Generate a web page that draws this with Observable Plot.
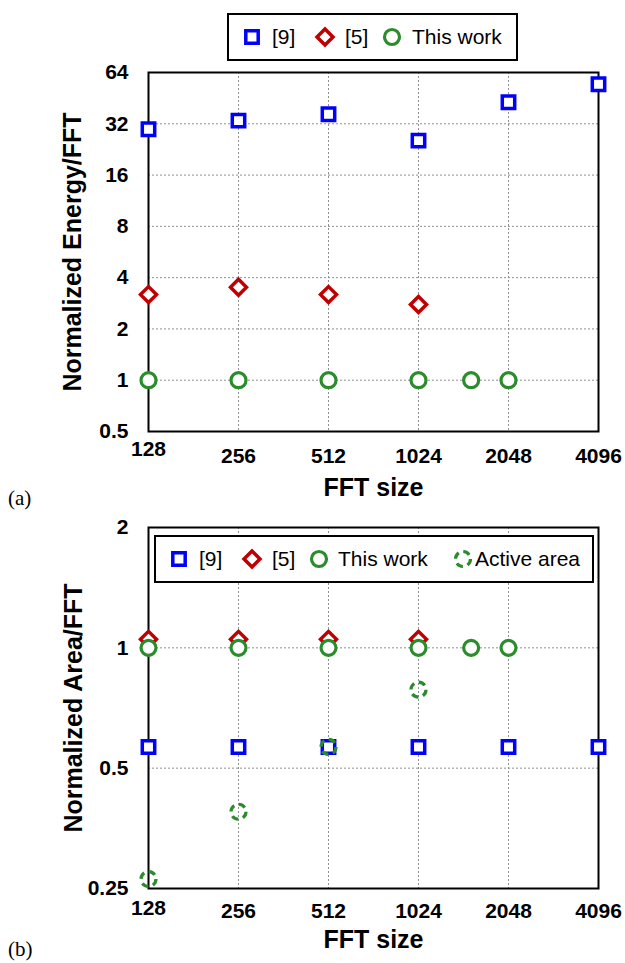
<!DOCTYPE html>
<html>
<head>
<meta charset="utf-8">
<script src="https://cdn.jsdelivr.net/npm/d3@7"></script>
<script src="https://cdn.jsdelivr.net/npm/@observablehq/plot@0.6"></script>
<style>
  body { margin: 0; background: #fff; }
  #root { position: relative; width: 625px; height: 963px; overflow: hidden; background: #fff;
          font-family: "Liberation Sans", Arial, Helvetica, sans-serif; }
  .panel { position: absolute; left: 0; }
  .plabel { position: absolute; font-family: "Liberation Serif", "Times New Roman", serif; font-size: 21px; line-height: 1; }
</style>
</head>
<body>
<div id="root"></div>
<script>
// ---------------- data ----------------
const fftTicks = [128, 256, 512, 1024, 2048, 4096];

// Panel (a): Normalized Energy/FFT
const energyTicks = [0.5, 1, 2, 4, 8, 16, 32, 64];
const sizesRef9 = [128, 256, 512, 1024, 2048, 4096];
const energyRef9 = [29.7, 33.4, 36.4, 25.5, 42.8, 54.6];
const sizesRef5 = [128, 256, 512, 1024];
const energyRef5 = [3.18, 3.51, 3.18, 2.78];
const sizesThis = [128, 256, 512, 1024, 1536, 2048];
const energyThis = [1, 1, 1, 1, 1, 1];

// Panel (b): Normalized Area/FFT
const areaTicks = [0.25, 0.5, 1, 2];
const areaRef9 = [0.565, 0.565, 0.565, 0.565, 0.565, 0.565];
const areaRef5 = [1.05, 1.05, 1.05, 1.05];
const areaThis = [1, 1, 1, 1, 1, 1];
const sizesActive = [128, 256, 512, 1024];
const areaActive = [0.264, 0.389, 0.565, 0.786];

const legendA = ["[9]", "[5]", "This work"];
const legendB = ["[9]", "[5]", "This work", "Active area"];

// ---------------- styles ----------------
const FONT = "Liberation Sans, Arial, Helvetica, sans-serif";
const BLUE = "#0000ff", RED = "#c00000", GREEN = "#2b8c2b";
const DIAMOND = d3.symbolDiamond2 || d3.symbolDiamond;
const sty = {
  ref9:   {symbol: "square", r: 7, stroke: BLUE, strokeWidth: 3.5, fill: "white"},
  ref5:   {symbol: DIAMOND, r: 7.2, stroke: RED, strokeWidth: 3.5, fill: "white"},
  thisw:  {symbol: "circle", r: 7.5, stroke: GREEN, strokeWidth: 3.2, fill: "white"},
  active: {symbol: "circle", r: 7.5, stroke: GREEN, strokeWidth: 3.2, fill: "none", strokeDasharray: "7,4.8"}
};
const grid = {stroke: "#8f8f8f", strokeOpacity: 1, strokeWidth: 1, strokeDasharray: "2,2"};
const tickText = {tickSize: 0, fontSize: 21, fontWeight: "bold", tickFormat: d => String(d), label: null};

const root = document.getElementById("root");

function panel({top, height, marginTop, marginBottom, yDomain, yTicks, yTitle, titleDx, pad128, padX, xTitleDy, series}) {
  const chart = Plot.plot({
    width: 625, height, marginLeft: 148, marginRight: 27, marginTop, marginBottom,
    style: {fontFamily: FONT, background: "transparent", overflow: "visible"},
    x: {type: "log", base: 2, domain: [128, 4096]},
    y: {type: "log", base: 2, domain: yDomain},
    marks: [
      Plot.gridY(yTicks.slice(1, -1), grid),
      Plot.gridX(fftTicks.slice(1, -1), grid),
      Plot.frame({stroke: "black", strokeWidth: 2}),
      Plot.axisY(yTicks, {...tickText, tickPadding: 20}),
      Plot.axisX(fftTicks.slice(1), {...tickText, tickPadding: padX}),
      Plot.axisX(fftTicks.slice(0, 1), {...tickText, tickPadding: pad128}),
      Plot.text([yTitle], {frameAnchor: "left", dx: titleDx, rotate: -90, textAnchor: "middle", lineAnchor: "middle",
                           fontSize: 25, fontWeight: "bold", fill: "black"}),
      Plot.text(["FFT size"], {frameAnchor: "bottom", dy: xTitleDy, textAnchor: "middle", lineAnchor: "middle",
                               fontSize: 25, fontWeight: "bold", fill: "black"}),
      ...series.map(([xs, ys, s]) => Plot.dot(ys, {x: xs, y: ys, ...s}))
    ]
  });
  chart.classList.add("panel");
  chart.style.top = top + "px";
  root.appendChild(chart);
  return chart;
}

panel({
  top: 0, height: 500, marginTop: 72, marginBottom: 69,
  yDomain: [0.5, 64], yTicks: energyTicks, yTitle: "Normalized Energy/FFT", titleDx: -76,
  pad128: 10, padX: 17, xTitleDy: 56,
  series: [[sizesRef9, energyRef9, sty.ref9], [sizesRef5, energyRef5, sty.ref5], [sizesThis, energyThis, sty.thisw]]
});

panel({
  top: 500, height: 463, marginTop: 27, marginBottom: 75,
  yDomain: [0.25, 2], yTicks: areaTicks, yTitle: "Normalized Area/FFT", titleDx: -75,
  pad128: 12, padX: 15, xTitleDy: 51,
  series: [[sizesRef9, areaRef9, sty.ref9], [sizesRef5, areaRef5, sty.ref5], [sizesThis, areaThis, sty.thisw], [sizesActive, areaActive, sty.active]]
});

// ---------------- legends (overlay) ----------------
const ov = d3.select(root).append("svg")
  .attr("width", 625).attr("height", 963)
  .style("position", "absolute").style("left", 0).style("top", 0)
  .style("font-family", FONT);

function legendSymbol(g, s, cx, cy) {
  if (s.symbol === "circle") {
    g.append("circle").attr("cx", cx).attr("cy", cy).attr("r", s.r)
      .attr("fill", s.fill).attr("stroke", s.stroke).attr("stroke-width", s.strokeWidth)
      .attr("stroke-dasharray", s.strokeDasharray || null);
  } else {
    const type = s.symbol === "square" ? d3.symbolSquare : s.symbol;
    g.append("path").attr("transform", `translate(${cx},${cy})`)
      .attr("d", d3.symbol(type, Math.PI * s.r * s.r)())
      .attr("fill", s.fill).attr("stroke", s.stroke).attr("stroke-width", s.strokeWidth);
  }
}

function legend(box, labels, styles, symX, textX) {
  const g = ov.append("g");
  g.append("rect").attr("x", box.x).attr("y", box.y).attr("width", box.w).attr("height", box.h)
    .attr("fill", "white").attr("stroke", "black").attr("stroke-width", 2);
  const cy = box.y + box.h / 2;
  labels.forEach((t, i) => {
    legendSymbol(g, styles[i], symX[i], cy);
    g.append("text").attr("x", textX[i]).attr("y", cy).attr("dy", "0.35em")
      .attr("font-size", 21).attr("fill", "black").text(t);
  });
}

legend({x: 228, y: 14, w: 289, h: 46}, legendA, [sty.ref9, sty.ref5, sty.thisw],
  [252, 325, 392], [272, 345, 412]);
legend({x: 155, y: 536, w: 438, h: 46}, legendB, [sty.ref9, sty.ref5, sty.thisw, sty.active],
  [179, 252, 319, 463], [199, 272, 338, 475]);

// panel tags
const ta = document.createElement("div"); ta.className = "plabel"; ta.textContent = "(a)";
ta.style.left = "8px"; ta.style.top = "488px"; root.appendChild(ta);
const tb = document.createElement("div"); tb.className = "plabel"; tb.textContent = "(b)";
tb.style.left = "8px"; tb.style.top = "939px"; root.appendChild(tb);
</script>
</body>
</html>
